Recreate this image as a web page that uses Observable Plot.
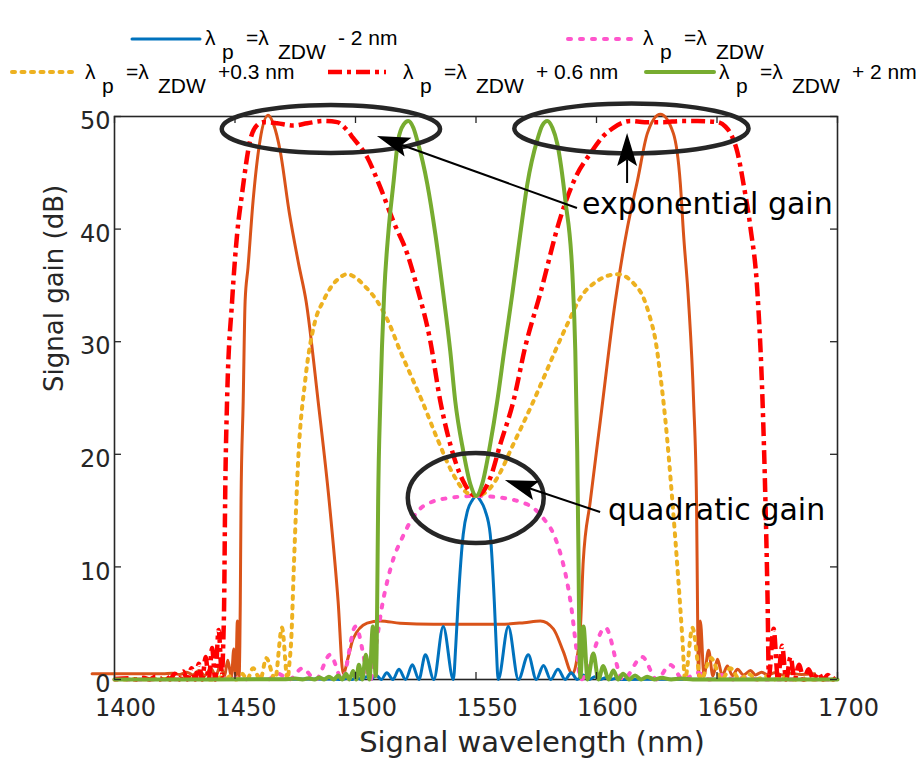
<!DOCTYPE html>
<html><head><meta charset="utf-8">
<script src="https://cdn.jsdelivr.net/npm/d3@7"></script>
<script src="https://cdn.jsdelivr.net/npm/@observablehq/plot@0.6"></script>
<style>
body{margin:0;background:#fff}
#wrap{width:919px;height:764px;position:relative;overflow:hidden;background:#fff}
#legend{display:block}
</style>
</head><body><div id="wrap"><svg id="legend" width="919" height="100"></svg><div id="chart"></div></div>
<script>
// ---------- data (wavelength nm, gain dB) ----------
const xTicks = [1400, 1450, 1500, 1550, 1600, 1650, 1700];
const yTicks = [0, 10, 20, 30, 40, 50];

const blueCurve = [[1400,0],[1470,0.02],[1490,0.05],[1494.5,0],[1496.5,0.1],[1498.5,0],[1500.5,0.15],[1502.5,0],[1504.5,0.25],[1506.5,0],[1508.5,0.4],[1510.7,0],[1513,0.6],[1515.5,0],[1518,0.9],[1520.8,0],[1523.6,1.3],[1526.3,0],[1529,2.2],[1532.5,0],[1536.4,4.7],[1540.6,0],[1541.6,3.0],[1542.6,6.9],[1544.7,12.9],[1546.5,15.0],[1548.4,15.9],[1550.1,16.3],[1551.8,15.9],[1553.8,15.0],[1555.9,12.9],[1557.6,6.9],[1558.4,3.0],[1559.2,0],[1563.4,4.7],[1567.6,0],[1571.7,2.2],[1575,0],[1578,1.25],[1581,0],[1584,0.9],[1587,0],[1589.5,0.6],[1592,0],[1594.5,0.4],[1597,0],[1599.3,0.25],[1601.5,0],[1603.8,0.15],[1606,0],[1608,0.1],[1610,0],[1630,0.03],[1700,0]];

const pinkCurve = [[1400,0],[1440,0.05],[1450,0.1],[1454,0],[1459,0.3],[1463.5,0],[1468,0.5],[1472.5,0],[1478,1.0],[1483.5,0],[1489.5,2.2],[1494.5,0],[1500,4.7],[1506.2,0],[1508.5,3.0],[1511,6.5],[1513.5,9.0],[1516,10.9],[1519,12.4],[1523,14.1],[1527,15.2],[1532,15.8],[1538,16.1],[1544,16.25],[1550,16.3],[1556,16.25],[1562,16.1],[1568,15.8],[1574,15.2],[1578,14.3],[1582,13.0],[1585,11.2],[1587.5,9.0],[1589.5,6.5],[1591.5,3.0],[1593.5,0],[1603.7,4.6],[1611,0],[1619,2.0],[1625,0],[1630.6,1.3],[1636,0],[1642,0.6],[1647,0],[1652,0.4],[1657,0],[1662,0.2],[1667,0],[1700,0]];

const yellowCurve = [[1400,0],[1435,0.05],[1441,0],[1444,0.2],[1446,0],[1448,0.3],[1450.5,0],[1453,0.5],[1455,0],[1457.5,1.0],[1460.5,0],[1463,1.9],[1466.6,0],[1469.5,4.6],[1471.8,0],[1472.6,1.5],[1473.3,3.4],[1474.5,10.5],[1476.2,19.4],[1479.1,26.5],[1483.2,31.8],[1486.6,33.6],[1490,34.9],[1493,35.6],[1496.5,36.0],[1500,35.7],[1504,34.9],[1509,33.6],[1514,31.6],[1518.5,29.2],[1523,27.0],[1527.7,24.7],[1533.9,21.4],[1540.6,18.2],[1545,16.8],[1550.1,16.3],[1555,16.8],[1558.8,17.9],[1565.5,20.9],[1573.8,24.7],[1578.5,27],[1582.9,29.2],[1588,31.6],[1593.3,33.9],[1600.4,35.4],[1608.7,36.0],[1615.3,35.2],[1619.5,33.9],[1622,32.3],[1624.5,30.1],[1626.5,27],[1628.6,23.0],[1631.5,15.8],[1634.0,8.7],[1635.7,3.4],[1636.7,0],[1639.8,4.6],[1643.3,0],[1647.5,1.9],[1652,0],[1655.5,1.0],[1659.5,0],[1663,0.5],[1666.5,0],[1670,0.3],[1673.5,0],[1677,0.2],[1680,0],[1700,0]];

const redCurve = [[1400,0.05],[1406,0.1],[1409,0],[1412,0.15],[1414.5,0],[1417,0.25],[1419,0],[1421,0.35],[1423,0],[1425,0.5],[1427,0],[1428.5,0.7],[1430.2,0],[1432,1.0],[1433.5,0],[1435,1.4],[1436.4,0],[1437.8,2.0],[1439.1,0],[1440.5,2.8],[1441.8,0],[1443.2,4.4],[1444.6,0.3],[1445.1,3],[1445.5,6.9],[1445.9,15.8],[1446.7,24.7],[1448.8,33.6],[1450.9,39.6],[1452.9,43.1],[1456.3,47.9],[1459,49.2],[1461.7,49.5],[1467.5,49.4],[1474.1,49.2],[1480,49.4],[1486.6,49.6],[1492.4,49.5],[1496,48.9],[1499.0,48.1],[1504.8,46.4],[1510.3,43.7],[1515.7,40.7],[1521.5,37.8],[1525.6,34.8],[1531.0,30.1],[1535.2,24.7],[1539.3,20.9],[1544.7,17.6],[1550.1,16.3],[1555.9,17.9],[1560.1,20.9],[1565.5,24.7],[1570.5,29.6],[1576.7,34.3],[1585.0,41.0],[1592.0,44.9],[1597.4,46.7],[1603,48.3],[1607.0,49.0],[1614.1,49.6],[1620,49.5],[1627.8,49.5],[1635,49.6],[1641.9,49.6],[1650.2,49.5],[1653.5,49.1],[1655.6,48.5],[1658.5,46.8],[1661.0,44.0],[1663.9,40.1],[1666.8,34.3],[1668.9,24.7],[1670.1,15.8],[1671.0,6.9],[1671.5,0.3],[1673.5,4.5],[1675.3,0],[1677,3.0],[1678.7,0],[1680.5,2.0],[1682.2,0],[1684,1.3],[1686,0],[1688,0.9],[1690,0],[1692,0.6],[1694,0],[1696,0.4],[1698,0],[1700,0.3]];

const greenCurve = [[1400,0],[1470,0.02],[1475,0.08],[1478,0],[1480.5,0.12],[1483,0],[1485,0.18],[1487,0],[1489,0.25],[1491,0],[1492.8,0.35],[1494.5,0],[1496,0.5],[1497.5,0],[1499,0.75],[1500.3,0],[1501.4,1.3],[1502.8,0],[1504.3,2.2],[1505.8,0],[1507.2,4.7],[1508.4,0.3],[1508.8,3],[1509.0,6.9],[1509.4,15.8],[1510.3,24.7],[1511.9,34.3],[1513.6,39.6],[1515.7,44.0],[1517.7,47.9],[1520,49.3],[1521.9,49.6],[1524,49.0],[1525.6,47.9],[1529.8,44.0],[1533.1,39.6],[1536.4,34.3],[1539.3,29.2],[1541.4,24.7],[1544.7,20.3],[1547.7,17.3],[1550.1,16.3],[1552.6,17.4],[1555.9,20.9],[1558.8,24.7],[1561.7,29.2],[1565.1,34.3],[1568.4,39.6],[1571.3,44.0],[1575.4,47.9],[1577.5,49.2],[1579.6,49.6],[1581.7,49.0],[1583.7,47.6],[1587.1,42.5],[1590.0,36.0],[1591.2,29.2],[1592.0,20.3],[1592.5,11.4],[1592.9,3],[1593.3,0.2],[1594.6,4.7],[1596.3,0],[1598.7,2.3],[1600.8,0],[1602.8,1.2],[1605,0],[1607,0.8],[1609,0],[1611,0.5],[1613.5,0],[1616,0.35],[1618.5,0],[1621,0.25],[1624,0],[1627,0.15],[1631,0],[1635,0.08],[1640,0],[1700,0]];

const orangeCurve = [[1390.7,0.5],[1420,0.5],[1424,0.55],[1427,0.45],[1430,0.65],[1432.5,0.4],[1435,0.8],[1437.5,0.35],[1440,1.0],[1442,0.3],[1444,1.3],[1445.6,0.25],[1447,1.7],[1448.5,0.2],[1449.5,2.7],[1450.3,0.3],[1451.0,5.2],[1451.7,0.2],[1452.0,3],[1452.2,6.9],[1452.5,15.8],[1453.4,24.7],[1454.2,33.6],[1455.4,36.6],[1457.5,42.5],[1460.4,47.9],[1463.7,50.1],[1466,49.3],[1468.7,47.0],[1472.5,41.5],[1476.5,36.8],[1479.5,33.6],[1484.5,24.7],[1489.1,15.8],[1492.8,6.9],[1494.9,0.5],[1497,2.0],[1499.0,3.6],[1504.8,5.0],[1510.3,5.2],[1518.5,5.0],[1532.3,4.9],[1560.1,4.9],[1570,5.05],[1576.7,5.2],[1582.1,4.5],[1586.2,2.5],[1590.0,0.5],[1592,2.0],[1593.3,4.5],[1594.5,10.5],[1597.4,15.8],[1601.6,23.0],[1607.8,33.6],[1612.8,40.1],[1617.0,44.3],[1621.1,48.5],[1626.5,50.2],[1631.9,48.5],[1634.8,44.0],[1636.1,39.6],[1638.2,33.6],[1640.3,24.7],[1641.5,15.8],[1641.9,6.9],[1642.3,0.3],[1643.1,5.2],[1644.6,0.3],[1646.5,2.6],[1648.3,0.3],[1650.2,1.8],[1652.2,0.35],[1654.3,1.2],[1656.4,0.35],[1658.5,0.9],[1661,0.4],[1663.9,0.8],[1666,0.4],[1668.5,0.65],[1671,0.4],[1674,0.6],[1677,0.4],[1680,0.55],[1685,0.45],[1690.5,0.5]];

const legendParts = [
  ["λ", "p", "=λ", "ZDW", "- 2 nm"],
  ["λ", "p", "=λ", "ZDW", ""],
  ["λ", "p", "=λ", "ZDW", "+0.3 nm"],
  ["λ", "p", "=λ", "ZDW", "+ 0.6 nm"],
  ["λ", "p", "=λ", "ZDW", "+ 2 nm"]
];
const xLabel = "Signal wavelength (nm)";
const yLabel = "Signal gain (dB)";
const annotTexts = ["exponential gain", "quadratic gain"];

// ---------- styles ----------
const styles = {
  orange: {stroke: "#D95319", w: 3, dash: null, cap: "round"},
  blue:   {stroke: "#0072BD", w: 3, dash: null, cap: "round"},
  pink:   {stroke: "#FF55CC", w: 4, dash: "3 9", cap: "round"},
  yellow: {stroke: "#EDB120", w: 4, dash: "3 6.5", cap: "round"},
  red:    {stroke: "#FF0000", w: 4.5, dash: "14 5 4 5", cap: "butt"},
  green:  {stroke: "#77AC30", w: 4, dash: null, cap: "round"}
};
const series = [
  ["orange", orangeCurve], ["blue", blueCurve], ["pink", pinkCurve],
  ["yellow", yellowCurve], ["red", redCurve], ["green", greenCurve]
];

const W = 919, H = 664, mT = 16, mB = 85, mL = 114, mR = 82;
const innerH = H - mT - mB, innerW = W - mL - mR;
const axisColor = "#262626";

const lineMarks = series.map(([k, pts]) => Plot.line(pts, {
  x: d => d[0], y: d => d[1], stroke: styles[k].stroke, strokeWidth: styles[k].w,
  strokeDasharray: styles[k].dash, strokeLinecap: styles[k].cap, strokeLinejoin: "round",
  curve: "monotone-x"
}));

const plot = Plot.plot({
  width: W, height: H, marginTop: mT, marginBottom: mB, marginLeft: mL, marginRight: mR,
  x: {domain: [1400, 1700], axis: null},
  y: {domain: [0, 50], axis: null},
  style: {fontFamily: "DejaVu Sans", fontSize: "24px", color: axisColor, background: "white", overflow: "visible", display: "block"},
  marks: [
    Plot.frame({stroke: axisColor, strokeWidth: 1.6}),
    ...lineMarks,
    Plot.ruleX(xTicks, {x: d => d, insetTop: innerH - 7, stroke: axisColor, strokeWidth: 1.3}),
    Plot.ruleX(xTicks, {x: d => d, insetBottom: innerH - 7, stroke: axisColor, strokeWidth: 1.3}),
    Plot.ruleY(yTicks, {y: d => d, insetRight: innerW - 7, stroke: axisColor, strokeWidth: 1.3}),
    Plot.ruleY(yTicks, {y: d => d, insetLeft: innerW - 7, stroke: axisColor, strokeWidth: 1.3}),
    Plot.text(xTicks, {x: d => d, text: d => String(d), frameAnchor: "bottom", dx: 11, dy: 36, fontSize: 24, fill: axisColor}),
    Plot.text(yTicks, {y: d => d, text: d => String(d), frameAnchor: "left", textAnchor: "end", dx: -4, dy: 5, fontSize: 24, fill: axisColor}),
    Plot.text([xLabel], {text: d => d, frameAnchor: "bottom", dx: 56, dy: 72, fontSize: 29, fill: axisColor}),
    Plot.text([yLabel], {text: d => d, frameAnchor: "left", rotate: -90, dx: -60, dy: -6, fontSize: 26, fill: axisColor})
  ]
});
document.getElementById("chart").appendChild(plot);

// ---------- annotations (placed in data coordinates via the plot's scales) ----------
const sx = plot.scale("x"), sy = plot.scale("y");
const kx = (sx.range[1] - sx.range[0]) / (sx.domain[1] - sx.domain[0]);
const ky = (sy.range[1] - sy.range[0]) / (sy.domain[1] - sy.domain[0]);
const fx = v => sx.range[0] + (v - sx.domain[0]) * kx;
const fy = v => sy.range[0] + (v - sy.domain[0]) * ky;

const ellipses = [
  {cx: 1490.0, cy: 48.85, rx: 45.3, ry: 2.13},
  {cx: 1614.7, cy: 48.9, rx: 48.6, ry: 2.22},
  {cx: 1550.1, cy: 16.07, rx: 28.2, ry: 4.0}
];
const arrows = [
  {from: [1592.1, 41.83], to: [1509.1, 48.22]},
  {from: [1612.9, 44.05], to: [1612.9, 48.49]},
  {from: [1601.7, 14.83], to: [1562.2, 17.67]}
];
const textPos = [[1594.2, 41.3], [1605.0, 14.1]];

const g = d3.select(plot).append("g");
ellipses.forEach(e => {
  g.append("ellipse").attr("cx", fx(e.cx)).attr("cy", fy(e.cy))
    .attr("rx", Math.abs(e.rx * kx)).attr("ry", Math.abs(e.ry * ky))
    .attr("fill", "none").attr("stroke", "#262626").attr("stroke-width", 4.5);
});
arrows.forEach(a => {
  const x0 = fx(a.from[0]), y0 = fy(a.from[1]), x1 = fx(a.to[0]), y1 = fy(a.to[1]);
  const dx = x1 - x0, dy = y1 - y0, len = Math.hypot(dx, dy);
  const ux = dx / len, uy = dy / len, nx = -uy, ny = ux;
  const L = 33, Wd = 10;
  const bx = x1 - L * ux, by = y1 - L * uy;
  const mx = x1 - 0.8 * L * ux, my = y1 - 0.8 * L * uy;
  g.append("line").attr("x1", x0).attr("y1", y0).attr("x2", mx).attr("y2", my)
    .attr("stroke", "#000").attr("stroke-width", 2);
  g.append("polygon").attr("points", [[x1, y1], [bx + Wd * nx, by + Wd * ny], [mx, my], [bx - Wd * nx, by - Wd * ny]].map(p => p.join(",")).join(" "))
    .attr("fill", "#000");
});
annotTexts.forEach((t, i) => {
  g.append("text").attr("x", fx(textPos[i][0])).attr("y", fy(textPos[i][1]))
    .attr("text-anchor", "start")
    .attr("font-family", "DejaVu Sans").attr("font-size", 30).attr("fill", "#000").text(t);
});

// ---------- legend ----------
const leg = d3.select("#legend");
const legendOrder = ["blue", "pink", "yellow", "red", "green"];
const legendPos = [
  {x0: 132, x1: 200, ly: 39, tx: 205, base: 45},
  {x0: 568, x1: 638, ly: 39, tx: 643, base: 45},
  {x0: 12, x1: 76, ly: 72, tx: 85, base: 79},
  {x0: 328, x1: 386, ly: 72, tx: 403, base: 79},
  {x0: 646, x1: 714, ly: 72, tx: 719, base: 79}
];
const partOffsets = [0, 17, 41, 73, 133];
legendOrder.forEach((k, i) => {
  const p = legendPos[i], s = styles[k];
  leg.append("line").attr("x1", p.x0).attr("x2", p.x1).attr("y1", p.ly).attr("y2", p.ly)
    .attr("stroke", s.stroke).attr("stroke-width", s.w)
    .attr("stroke-dasharray", s.dash).attr("stroke-linecap", s.cap);
  const t = leg.append("text").attr("font-family", "Liberation Sans").attr("font-size", 21).attr("fill", "#000");
  legendParts[i].forEach((part, j) => {
    if (!part) return;
    t.append("tspan").attr("x", p.tx + partOffsets[j]).attr("y", p.base + (j === 1 || j === 3 ? 14 : 0)).text(part);
  });
});
</script>
</body></html>
